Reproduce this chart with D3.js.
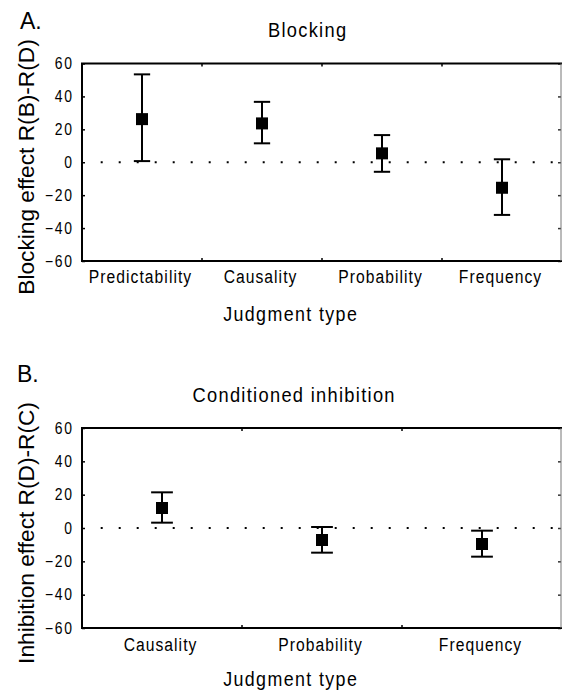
<!DOCTYPE html>
<html>
<head>
<meta charset="utf-8">
<script src="https://cdn.jsdelivr.net/npm/d3@7/dist/d3.min.js"></script>
<style>
  html, body { margin: 0; padding: 0; background: #fff; }
  svg { display: block; }
  text { font-family: "Liberation Sans", Arial, Helvetica, sans-serif; fill: #000; }
</style>
</head>
<body>
<svg id="chart" width="562" height="695"></svg>
<script>
// ---- data ----
const catsA = ["Predictability", "Causality", "Probability", "Frequency"];
const meanA = [26.2, 23.6, 5.4, -15.5];
const lowA  = [0.7, 11.5, -5.8, -32.0];
const highA = [53.4, 36.7, 16.5, 1.8];

const catsB = ["Causality", "Probability", "Frequency"];
const meanB = [12.0, -7.2, -9.6];
const lowB  = [3.2, -14.8, -17.2];
const highB = [21.4, 0.6, -1.6];

const yTicks = [-60, -40, -20, 0, 20, 40, 60];
const yDomain = [-60, 60];

const SX = 0.87; // horizontal condensing of the figure's narrow typeface
const svg = d3.select("#chart");

function narrowText(sel, x, y, size, ls, anchor, str) {
  return sel.append("text")
    .attr("transform", `translate(${x},${y}) scale(${SX},1)`)
    .attr("text-anchor", anchor).attr("font-size", size)
    .attr("letter-spacing", ls)
    .attr("dx", anchor === "middle" ? ls / 2 : 0)
    .text(str);
}

function panel(opts) {
  const { cats, mean, low, high, top, bottom, letter, letterX, letterY,
          title, titleX, titleY, ylabel, ylabelY, xlabelY, catLabelY } = opts;
  const left = 82, right = 562;
  const x = d3.scaleBand().domain(cats).range([left, right]).padding(0);
  const y = d3.scaleLinear().domain(yDomain).range([bottom, top]);
  const g = svg.append("g");

  // zero dotted line
  g.append("line")
    .attr("x1", 100.7).attr("x2", right - 1)
    .attr("y1", y(0)).attr("y2", y(0))
    .attr("stroke", "#000").attr("stroke-width", 2)
    .attr("stroke-dasharray", "2 16");

  // left axis
  const ax = g.append("g").attr("transform", `translate(${left},0)`)
    .call(d3.axisLeft(y).tickValues(yTicks).tickSize(-3).tickPadding(10).tickFormat(d3.format("d")));
  ax.select(".domain").remove();
  ax.selectAll(".tick line").attr("stroke", "#000").attr("stroke-width", 1.5);
  ax.selectAll(".tick text")
    .attr("x", 0)
    .attr("transform", `translate(-8.3,0) scale(${SX},1)`)
    .attr("font-size", 16).attr("letter-spacing", 2)
    .attr("font-family", "'Liberation Sans', Arial, sans-serif").attr("fill", "#000");

  // right axis ticks
  const axr = g.append("g").attr("transform", `translate(${right - 1},0)`)
    .call(d3.axisRight(y).tickValues(yTicks).tickSize(-3).tickFormat(""));
  axr.select(".domain").remove();
  axr.selectAll(".tick line").attr("stroke", "#333").attr("stroke-width", 1.5);

  // category boundary ticks (top & bottom)
  const bounds = cats.slice(1).map(c => x(c));
  g.selectAll(".btick").data(bounds).enter().append("line")
    .attr("x1", d => d).attr("x2", d => d)
    .attr("y1", bottom).attr("y2", bottom - 3)
    .attr("stroke", "#000").attr("stroke-width", 1.5);
  g.selectAll(".ttick").data(bounds).enter().append("line")
    .attr("x1", d => d).attr("x2", d => d)
    .attr("y1", top).attr("y2", top + 3)
    .attr("stroke", "#000").attr("stroke-width", 1.5);

  // frame
  g.append("path")
    .attr("d", `M${right},${top} L${left},${top} L${left},${bottom} L${right},${bottom}`)
    .attr("fill", "none").attr("stroke", "#000").attr("stroke-width", 2);
  g.append("line")
    .attr("x1", right - 1).attr("x2", right - 1).attr("y1", top).attr("y2", bottom)
    .attr("stroke", "#777").attr("stroke-width", 1);

  // error bars
  const cx = c => x(c) + x.bandwidth() / 2;
  const capHalf = x.bandwidth() * 0.068;
  const data = cats.map((c, i) => ({ c, m: mean[i], lo: low[i], hi: high[i] }));
  const eb = g.selectAll(".eb").data(data).enter().append("g");
  eb.append("line")
    .attr("x1", d => cx(d.c)).attr("x2", d => cx(d.c))
    .attr("y1", d => y(d.lo)).attr("y2", d => y(d.hi))
    .attr("stroke", "#000").attr("stroke-width", 2);
  eb.append("line")
    .attr("x1", d => cx(d.c) - capHalf).attr("x2", d => cx(d.c) + capHalf)
    .attr("y1", d => y(d.hi)).attr("y2", d => y(d.hi))
    .attr("stroke", "#000").attr("stroke-width", 2);
  eb.append("line")
    .attr("x1", d => cx(d.c) - capHalf).attr("x2", d => cx(d.c) + capHalf)
    .attr("y1", d => y(d.lo)).attr("y2", d => y(d.lo))
    .attr("stroke", "#000").attr("stroke-width", 2);
  const sq = 12;
  eb.append("rect")
    .attr("x", d => cx(d.c) - sq / 2).attr("y", d => y(d.m) - sq / 2)
    .attr("width", sq).attr("height", sq).attr("fill", "#000");

  // category labels
  cats.forEach(c => narrowText(g, cx(c) - 2, catLabelY, 18, 1.2, "middle", c));

  // x label
  narrowText(g, 290, xlabelY, 20.5, 1.6, "middle", "Judgment type");

  // y label
  g.append("text")
    .attr("transform", `translate(34,${ylabelY}) rotate(-90)`)
    .attr("text-anchor", "middle").attr("font-size", 22.7)
    .text(ylabel);

  // title
  narrowText(g, titleX, titleY, 21, 1.5, "middle", title);

  // panel letter
  g.append("text").attr("x", letterX).attr("y", letterY)
    .attr("font-size", 23).text(letter);
}

panel({
  cats: catsA, mean: meanA, low: lowA, high: highA,
  top: 63.5, bottom: 261,
  letter: "A.", letterX: 20, letterY: 28.5,
  title: "Blocking", titleX: 307, titleY: 36.7,
  ylabel: "Blocking effect R(B)-R(D)", ylabelY: 167,
  xlabelY: 320.5, catLabelY: 283.3
});

panel({
  cats: catsB, mean: meanB, low: lowB, high: highB,
  top: 428, bottom: 628,
  letter: "B.", letterX: 17, letterY: 382,
  title: "Conditioned inhibition", titleX: 293.5, titleY: 401.7,
  ylabel: "Inhibition effect R(D)-R(C)", ylabelY: 533,
  xlabelY: 686, catLabelY: 650.7
});
</script>
</body>
</html>
